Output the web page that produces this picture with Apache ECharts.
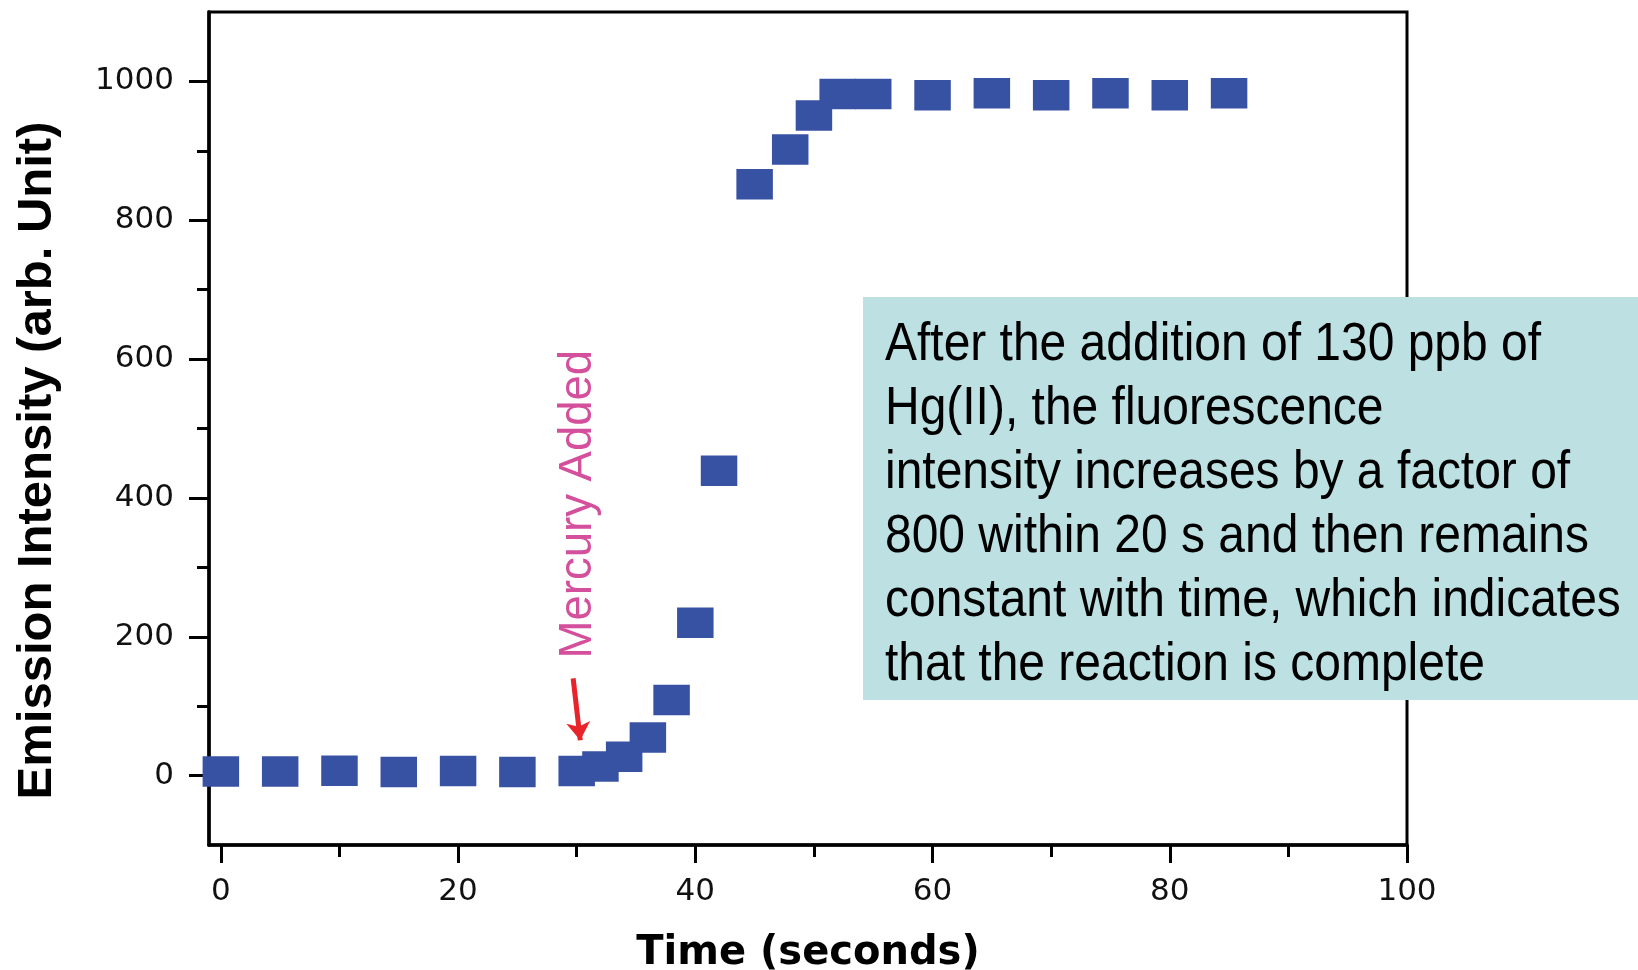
<!DOCTYPE html>
<html><head><meta charset="utf-8">
<script src="https://cdn.jsdelivr.net/npm/echarts@6/dist/echarts.min.js"></script>
<style>html,body{margin:0;padding:0;background:#fff}#c{width:1638px;height:970px}</style>
</head><body><div id="c"></div>
<script>
const times = [0, 5, 10, 15, 20, 25, 30, 32, 34, 36, 38, 40, 42, 45, 48, 50, 52, 55, 60, 65, 70, 75, 80, 85];
const intensity = [6, 6, 7, 5, 6.5, 5, 6.5, 13, 27, 55, 109, 220, 439, 852, 902, 951, 982, 982, 980, 983, 980, 983, 980, 983];
const xMajorTicks = [0, 20, 40, 60, 80, 100];
const xMinorTicks = [10, 30, 50, 70, 90];
const yMajorTicks = [0, 200, 400, 600, 800, 1000];
const yMinorTicks = [100, 300, 500, 700, 900];
const xTitle = 'Time (seconds)';
const yTitle = 'Emission Intensity (arb. Unit)';
const markerText = 'Mercury Added';
const markerAt = [30.15, 391];
const arrowFrom = [29.7, 140];
const arrowTo = [30.3, 51];
const noteLines = [
  'After the addition of 130 ppb of',
  'Hg(II), the fluorescence',
  'intensity increases by a factor of',
  '800 within 20 s and then remains',
  'constant with time, which indicates',
  'that the reaction is complete'
];

const chart = echarts.init(document.getElementById('c'), null, {renderer: 'canvas'});
const tickFont = {fontFamily: 'DejaVu Sans', fontSize: 31, color: '#111', formatter: v => String(v)};
chart.setOption({
  animation: false,
  backgroundColor: '#fff',
  grid: {left: 209, right: 231, top: 12, bottom: 125, containLabel: false, outerBoundsMode: 'none',
    show: true, borderColor: '#000', borderWidth: 3, backgroundColor: 'transparent'},
  xAxis: [{
    type: 'value', min: -1, max: 100, position: 'bottom',
    name: xTitle, nameLocation: 'middle', nameGap: 89,
    nameTextStyle: {fontFamily: 'DejaVu Sans', fontWeight: 'bold', fontSize: 40, color: '#000'},
    axisLine: {show: true, onZero: false, lineStyle: {color: '#000', width: 3.5}},
    axisTick: {show: true, customValues: xMajorTicks, length: 18, lineStyle: {color: '#000', width: 3}},
    axisLabel: {show: true, customValues: xMajorTicks, margin: 31, ...tickFont},
    splitLine: {show: false}
  }, {
    type: 'value', min: -1, max: 100, position: 'bottom',
    axisLine: {show: false, onZero: false},
    axisTick: {show: true, customValues: xMinorTicks, length: 12, lineStyle: {color: '#000', width: 3}},
    axisLabel: {show: false},
    splitLine: {show: false}
  }],
  yAxis: [{
    type: 'value', min: -100, max: 1100, position: 'left',
    name: yTitle, nameLocation: 'middle', nameGap: 147, nameRotate: 90,
    nameTextStyle: {fontFamily: 'Liberation Sans', fontWeight: 'bold', fontSize: 49, color: '#000', padding: [0, 64, 0, 0]},
    axisLine: {show: true, onZero: false, lineStyle: {color: '#000', width: 3.5}},
    axisTick: {show: true, customValues: yMajorTicks, length: 20, lineStyle: {color: '#000', width: 3}},
    axisLabel: {show: true, customValues: yMajorTicks, margin: 35, ...tickFont},
    splitLine: {show: false}
  }, {
    type: 'value', min: -100, max: 1100, position: 'left',
    axisLine: {show: false, onZero: false},
    axisTick: {show: true, customValues: yMinorTicks, length: 12, lineStyle: {color: '#000', width: 3}},
    axisLabel: {show: false},
    splitLine: {show: false}
  }],
  series: [{
    type: 'scatter',
    xAxisIndex: 0, yAxisIndex: 0,
    data: times.map((t, i) => [t, intensity[i]]),
    symbol: 'rect',
    symbolSize: [36.5, 30.5],
    itemStyle: {color: '#3852a3', opacity: 1},
    z: 2,
    markLine: {
      silent: true,
      symbol: ['none', 'arrow'],
      symbolSize: 18,
      label: {show: false},
      lineStyle: {color: '#e8232b', width: 5, type: 'solid', opacity: 1},
      data: [[{coord: arrowFrom}, {coord: arrowTo}]]
    },
    markPoint: {
      silent: true,
      symbol: 'rect',
      symbolSize: 1,
      itemStyle: {color: 'rgba(0,0,0,0)'},
      label: {show: true, position: 'inside', rotate: 90, formatter: markerText,
        fontFamily: 'Liberation Sans', fontSize: 45.5, color: '#d4509c'},
      data: [{coord: markerAt}]
    }
  }],
  graphic: [
    {type: 'rect', left: 863, top: 297, shape: {width: 775, height: 403}, style: {fill: '#bde0e3'}, z: 100},
    {type: 'text', x: 885, y: 313, scaleX: 0.905, scaleY: 1, z: 101,
      style: {x: 0, y: 0, text: noteLines.join('\n'), font: '53px "Liberation Sans"', fill: '#000', lineHeight: 64, verticalAlign: 'top', align: 'left'}}
  ]
});
</script>
</body></html>
